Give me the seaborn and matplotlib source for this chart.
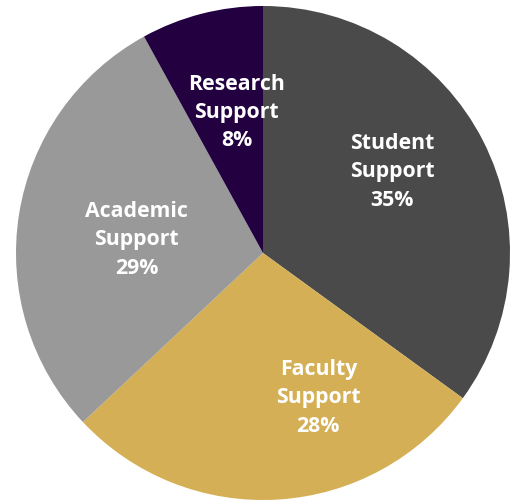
import matplotlib
matplotlib.use("Agg")
import matplotlib.pyplot as plt
import seaborn as sns

sns.set_theme(style="white")
plt.rcParams['font.family'] = ['Open Sans', 'DejaVu Sans']

categories = ["Student\nSupport", "Faculty\nSupport", "Academic\nSupport", "Research\nSupport"]
values = [35, 28, 29, 8]
colors = ["#4a4a4a", "#d4af55", "#999999", "#230040"]
# label anchor positions (fraction of radius), styling only
label_pos = [(0.524, 0.328), (0.224, -0.587), (-0.512, 0.053), (-0.106, 0.568)]

fig = plt.figure(figsize=(5.19, 5.0), dpi=100)
W, H = 519, 500
cx, cy, r = 263, 253, 247
ax = fig.add_axes([(cx - r) / W, (H - cy - r) / H, 2 * r / W, 2 * r / H])

wedges, _ = ax.pie(values, colors=colors, startangle=90, counterclock=False,
                   radius=1, wedgeprops=dict(linewidth=0))
total = sum(values)
for cat, v, (x, y) in zip(categories, values, label_pos):
    ax.text(x, y, f"{cat}\n{round(100 * v / total)}%", ha="center", va="center",
            color="white", fontsize=15.3, fontweight="bold", linespacing=1.45)
ax.set_xlim(-1, 1)
ax.set_ylim(-1, 1)
ax.set_aspect("equal")
ax.axis("off")
fig.savefig("out.png", dpi=100)
